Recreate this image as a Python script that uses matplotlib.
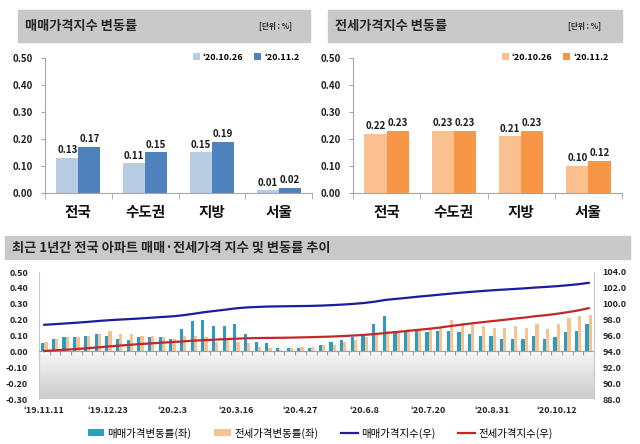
import matplotlib.pyplot as plt
import numpy as np
from matplotlib.patches import Rectangle
from matplotlib.ticker import FormatStrFormatter
from matplotlib.transforms import blended_transform_factory

plt.rcParams['font.family'] = ['Noto Sans CJK KR', 'DejaVu Sans']
plt.rcParams['font.weight'] = 'bold'

# top panels
regions = ['전국', '수도권', '지방', '서울']
weeks_top = ['‘20.10.26', '‘20.11.2']
sale_top = [[0.13, 0.11, 0.15, 0.01], [0.17, 0.15, 0.19, 0.02]]
jeonse_top = [[0.22, 0.23, 0.21, 0.10], [0.23, 0.23, 0.23, 0.12]]

# bottom panel, weekly '19.11.11 ~ '20.11.2
date_labels = ['‘19.11.11', '‘19.12.23', '‘20.2.3', '‘20.3.16', '‘20.4.27',
               '‘20.6.8', '‘20.7.20', '‘20.8.31', '‘20.10.12']
sale_rate = [0.05, 0.08, 0.09, 0.09, 0.10, 0.11, 0.10, 0.08, 0.07, 0.09,
             0.09, 0.09, 0.08, 0.14, 0.19, 0.20, 0.16, 0.16, 0.17, 0.11,
             0.06, 0.05, 0.02, 0.02, 0.02, 0.02, 0.04, 0.06, 0.07, 0.09,
             0.11, 0.17, 0.22, 0.13, 0.13, 0.14, 0.12, 0.13, 0.13, 0.12,
             0.11, 0.10, 0.10, 0.08, 0.08, 0.08, 0.10, 0.08, 0.09, 0.12,
             0.13, 0.17]
jeonse_rate = [0.06, 0.08, 0.09, 0.09, 0.10, 0.11, 0.13, 0.11, 0.11, 0.10,
               0.10, 0.09, 0.08, 0.10, 0.10, 0.09, 0.06, 0.07, 0.06, 0.05,
               0.03, 0.02, 0.01, 0.02, 0.03, 0.03, 0.04, 0.04, 0.06, 0.07,
               0.09, 0.11, 0.13, 0.13, 0.14, 0.14, 0.14, 0.15, 0.20, 0.18,
               0.17, 0.16, 0.15, 0.15, 0.16, 0.15, 0.17, 0.14, 0.17, 0.21,
               0.22, 0.23]
sale_index = [97.35, 97.43, 97.52, 97.61, 97.71, 97.82, 97.92, 98.00, 98.07, 98.15,
              98.24, 98.33, 98.41, 98.55, 98.74, 98.94, 99.10, 99.26, 99.43, 99.54,
              99.60, 99.65, 99.67, 99.69, 99.71, 99.73, 99.77, 99.83, 99.90, 99.99,
              100.10, 100.27, 100.49, 100.62, 100.75, 100.89, 101.01, 101.14, 101.27, 101.39,
              101.50, 101.60, 101.70, 101.78, 101.86, 101.94, 102.04, 102.12, 102.21, 102.33,
              102.46, 102.63]
jeonse_index = [94.05, 94.13, 94.21, 94.30, 94.39, 94.50, 94.62, 94.72, 94.83, 94.92,
                95.01, 95.10, 95.17, 95.26, 95.35, 95.42, 95.48, 95.55, 95.60, 95.65,
                95.68, 95.70, 95.71, 95.73, 95.76, 95.79, 95.83, 95.87, 95.93, 96.00,
                96.08, 96.19, 96.31, 96.44, 96.57, 96.71, 96.84, 96.99, 97.18, 97.35,
                97.52, 97.67, 97.82, 97.96, 98.12, 98.26, 98.43, 98.56, 98.73, 98.93,
                99.15, 99.45]

W, H = 640, 444
fig = plt.figure(figsize=(W / 100, H / 100), dpi=100)


def rect(x0, y0, x1, y1):
    # pixel box (top-left origin) -> figure fraction
    return [x0 / W, 1 - y1 / H, (x1 - x0) / W, (y1 - y0) / H]


def title_bar(x0, y0, x1, y1):
    r = rect(x0, y0, x1, y1)
    fig.add_artist(Rectangle((r[0], r[1]), r[2], r[3], transform=fig.transFigure,
                             color='#c9c9c9', zorder=0))


def top_panel(box, vals, colors, legend_right):
    ax = fig.add_axes(box)
    x = np.arange(len(regions))
    w = 0.33
    for k in range(2):
        bars = ax.bar(x + (k - 0.5) * w, vals[k], w, color=colors[k], label=weeks_top[k], zorder=2)
        ax.bar_label(bars, labels=['%.2f' % v for v in vals[k]], padding=2,
                     fontsize=7, fontweight='bold', color='#1a1a1a')
    ax.set_xlim(-0.5, 3.5)
    ax.set_ylim(0, 0.5)
    ax.set_yticks(np.arange(0, 0.51, 0.1))
    ax.yaxis.set_major_formatter(FormatStrFormatter('%.2f'))
    ax.set_xticks(x, regions, fontsize=10.5, fontweight='bold')
    ax.set_xticks(np.arange(-0.5, 4, 1), minor=True)
    ax.tick_params(axis='x', which='major', length=0, pad=8, colors='#111111')
    ax.tick_params(axis='x', which='minor', length=4, color='#a6a6a6')
    ax.tick_params(axis='y', labelsize=7, length=3, color='#a6a6a6', labelcolor='#222222', pad=6)
    for s in ['top', 'right']:
        ax.spines[s].set_visible(False)
    for s in ['left', 'bottom']:
        ax.spines[s].set_color('#a6a6a6')
    ax.legend(loc='upper right', bbox_to_anchor=(legend_right / W, 1 - 48 / H),
              bbox_transform=fig.transFigure, ncol=2, frameon=False, fontsize=6.5,
              handlelength=0.8, handleheight=0.8, handletextpad=0.3,
              columnspacing=1.2, borderpad=0)
    return ax


# top-left
title_bar(18, 10, 310, 42)
fig.text(25 / W, 1 - 26 / H, '매매가격지수 변동률', fontsize=9.5, fontweight='bold',
         va='center', color='#262626')
fig.text(292 / W, 1 - 26 / H, '[단위 : %]', fontsize=5.5, ha='right', va='center', color='#262626')
top_panel(rect(45, 58, 312, 193), sale_top, ['#b8cce4', '#4f81bd'], 304)

# top-right
title_bar(328, 10, 622, 42)
fig.text(335 / W, 1 - 26 / H, '전세가격지수 변동률', fontsize=9.5, fontweight='bold',
         va='center', color='#262626')
fig.text(601 / W, 1 - 26 / H, '[단위 : %]', fontsize=5.5, ha='right', va='center', color='#262626')
top_panel(rect(353, 58, 622, 193), jeonse_top, ['#fac090', '#f79646'], 613)

# bottom
title_bar(5, 236, 630, 259)
fig.text(12 / W, 1 - 247.5 / H, '최근 1년간 전국 아파트 매매·전세가격 지수 및 변동률 추이',
         fontsize=9.5, fontweight='bold', va='center', color='#262626')

ax = fig.add_axes(rect(39, 272, 594, 399))
yy = np.linspace(0, 1, 200).reshape(-1, 1)
shade = 1 - 0.2 * np.clip((0.45 - yy) / 0.45, 0, 1)
img = np.dstack([shade, shade, shade])
ax.imshow(img, extent=[0, 1, 0, 1], transform=ax.transAxes, origin='lower',
          aspect='auto', zorder=0)

x = np.arange(len(sale_rate))
b1 = ax.bar(x - 0.15, sale_rate, 0.3, color='#2e9cc2', zorder=3, label='매매가격변동률(좌)')
b2 = ax.bar(x + 0.15, jeonse_rate, 0.3, color='#f6c290', zorder=3, label='전세가격변동률(좌)')
ax.set_xlim(-0.5, len(x) - 0.5)
ax.set_ylim(-0.3, 0.5)
ax.set_yticks(np.arange(-0.3, 0.51, 0.1))
ax.yaxis.set_major_formatter(FormatStrFormatter('%.2f'))
ax.tick_params(axis='y', labelsize=6.5, length=0, pad=8, labelcolor='#222222')
ax.set_xticks(np.arange(-0.5, len(x), 1))
ax.set_xticklabels([])
ax.tick_params(axis='x', length=3, color='#a0a0a0', direction='out')
ax.spines['bottom'].set_position(('data', 0))
ax.spines['bottom'].set_color('#a0a0a0')
ax.spines['left'].set_color('#c8c8c8')
ax.spines['top'].set_visible(False)
ax.spines['right'].set_visible(False)

trans = blended_transform_factory(ax.transData, ax.transAxes)
for pos, lbl in zip(np.arange(0, len(x), 6), date_labels):
    ax.text(pos, -0.087, lbl, transform=trans, ha='center', va='center',
            fontsize=6.5, fontweight='bold', color='#222222')

ax2 = ax.twinx()
l1, = ax2.plot(x, sale_index, color='#1c1c9c', lw=1.6, label='매매가격지수(우)')
l2, = ax2.plot(x, jeonse_index, color='#c0282c', lw=1.6, label='전세가격지수(우)')
ax2.set_ylim(88, 104)
ax2.set_yticks(np.arange(88, 104.1, 2))
ax2.yaxis.set_major_formatter(FormatStrFormatter('%.1f'))
ax2.tick_params(axis='y', labelsize=6.5, length=0, pad=6, labelcolor='#222222')
for s in ['top', 'left', 'bottom']:
    ax2.spines[s].set_visible(False)
ax2.spines['right'].set_color('#c8c8c8')

fig.legend(handles=[b1, b2, l1, l2], loc='center', bbox_to_anchor=(0.5, 1 - 433 / H),
           ncol=4, frameon=False, prop={'size': 7.5, 'weight': 'normal'},
           handlelength=1.6, handleheight=0.6, handletextpad=0.3, columnspacing=2.2)

fig.savefig('out.png', dpi=100)
